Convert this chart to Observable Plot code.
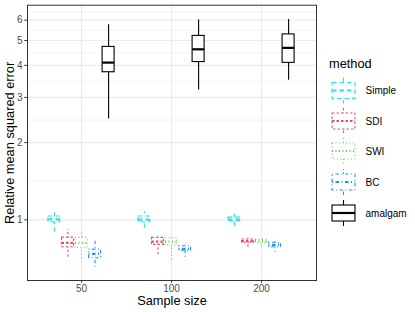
<!DOCTYPE html>
<html>
<head>
<meta charset="utf-8">
<script src="https://cdn.jsdelivr.net/npm/d3@7"></script>
<script src="https://cdn.jsdelivr.net/npm/@observablehq/plot@0.6"></script>
<style>
  html, body { margin: 0; padding: 0; background: white; }
  #wrap { position: relative; width: 415px; height: 312px; font-family: "Liberation Sans", Arial, sans-serif; }
  #legend { position: absolute; left: 0; top: 0; }
</style>
</head>
<body>
<div id="wrap"></div>
<script>
const sampleSizes = ["50", "100", "200"];
const methods = ["Simple", "SDI", "SWI", "BC", "amalgam"];
const methodColors = ["#28E2E5", "#DF536B", "#61D04F", "#2297E6", "#000000"];
const methodDashes = ["4.5,3", "2.5,2", "1,2.5", "1,2.5,3.5,2.5", null];
const yTicks = [1, 2, 3, 4, 5, 6];
const yMinorGrid = [1.414, 2.449, 3.464, 4.472, 5.477, 6.481];

// [whisker low, Q1, median, Q3, whisker high] for sample size 50, 100, 200
const simpleStats = [[0.895, 0.979, 1.005, 1.030, 1.087], [0.927, 0.979, 1.003, 1.030, 1.077], [0.944, 0.985, 1.003, 1.020, 1.065]];
const sdiStats = [[0.715, 0.782, 0.814, 0.853, 0.917], [0.731, 0.799, 0.823, 0.851, 0.863], [0.782, 0.814, 0.826, 0.838, 0.851]];
const swiStats = [[0.705, 0.775, 0.814, 0.851, 0.908], [0.699, 0.794, 0.823, 0.848, 0.874], [0.782, 0.811, 0.826, 0.836, 0.855]];
const bcStats = [[0.654, 0.709, 0.737, 0.766, 0.831], [0.715, 0.759, 0.771, 0.789, 0.806], [0.748, 0.782, 0.799, 0.814, 0.843]];
const amalgamStats = [[2.47, 3.76, 4.10, 4.72, 5.76], [3.21, 4.12, 4.62, 5.21, 6.01], [3.50, 4.09, 4.68, 5.28, 6.04]];

const allStats = [simpleStats, sdiStats, swiStats, bcStats, amalgamStats];
const rowsByMethod = allStats.map((stats, mi) => stats.map((s, si) => ({
  n: sampleSizes[si], method: methods[mi], lo: s[0], q1: s[1], med: s[2], q3: s[3], hi: s[4]
})));

const W = 415, H = 312;
const mL = 27, mR = 99, mT = 4.7, mB = 32;
const step = 13.55; // dodge step in px
const lw = 1.1;
const tickFs = 10, titleFs = 12.8;

const boxMarks = [];
rowsByMethod.forEach((rows, i) => {
  const dx = (i - 2) * step;
  const col = methodColors[i];
  const dash = methodDashes[i];
  boxMarks.push(
    Plot.ruleX(rows, {x: "n", y1: "lo", y2: "hi", stroke: col, strokeWidth: lw, strokeDasharray: dash, dx}),
    Plot.barY(rows, {x: "n", y1: "q1", y2: "q3", fill: "white", stroke: col, strokeWidth: lw, strokeDasharray: dash, dx}),
    Plot.tickY(rows, {x: "n", y: "med", stroke: col, strokeWidth: 2.2, strokeDasharray: dash, dx})
  );
});

const chart = Plot.plot({
  width: W, height: H,
  marginLeft: mL, marginRight: mR, marginTop: mT, marginBottom: mB,
  style: {fontFamily: "'Liberation Sans', Arial, sans-serif", background: "white", overflow: "visible"},
  x: {type: "band", domain: sampleSizes, paddingInner: 0.863, paddingOuter: 0.5315, align: 0.5},
  y: {type: "log", domain: [Math.exp(-0.544), Math.exp(1.926)]},
  marks: [
    Plot.ruleY(yMinorGrid, {y: d => d, stroke: "#EBEBEB", strokeWidth: 0.6}),
    Plot.ruleY(yTicks, {y: d => d, stroke: "#EBEBEB", strokeWidth: 1.1}),
    Plot.ruleX(sampleSizes, {x: d => d, stroke: "#EBEBEB", strokeWidth: 1.1}),
    ...boxMarks,
    Plot.frame({stroke: "#333333", strokeWidth: 1}),
    Plot.axisY({ticks: yTicks, tickFormat: d => String(d), tickSize: 2.7, tickPadding: 2.2, fontSize: tickFs, stroke: "#333333", color: "#4D4D4D", label: null}),
    Plot.axisX({tickSize: 2.7, tickPadding: 1.7, fontSize: tickFs, stroke: "#333333", color: "#4D4D4D", label: null}),
    Plot.text(["Relative mean squared error"], {frameAnchor: "left", textAnchor: "middle", lineAnchor: "middle", rotate: -90, dx: -17.5, fontSize: titleFs, fill: "black"}),
    Plot.text(["Sample size"], {frameAnchor: "bottom", textAnchor: "middle", lineAnchor: "middle", dy: 20.5, fontSize: titleFs, fill: "black"})
  ]
});
document.getElementById("wrap").appendChild(chart);

// Legend
const leg = d3.select("#wrap").append("svg")
  .attr("id", "legend").attr("width", W).attr("height", H)
  .style("font-family", "'Liberation Sans', Arial, sans-serif");
leg.append("text").attr("x", 329).attr("y", 68).attr("font-size", titleFs).attr("fill", "black").text("method");
const keyX = 332, keyW = 23;
const keyCenters = [90.5, 121, 151, 182, 213];
methods.forEach((m, i) => {
  const cy = keyCenters[i];
  const g = leg.append("g").attr("stroke", methodColors[i]).attr("stroke-width", lw).attr("fill", "none");
  if (methodDashes[i]) g.attr("stroke-dasharray", methodDashes[i]);
  const cx = keyX + keyW / 2;
  g.append("line").attr("x1", cx).attr("x2", cx).attr("y1", cy - 13).attr("y2", cy + 13);
  g.append("rect").attr("x", keyX).attr("y", cy - 8).attr("width", keyW).attr("height", 16).attr("fill", "white");
  g.append("line").attr("x1", keyX).attr("x2", keyX + keyW).attr("y1", cy).attr("y2", cy).attr("stroke-width", 2.2);
  leg.append("text").attr("x", 365.5).attr("y", cy + 3.6).attr("font-size", tickFs).attr("fill", "black").text(m);
});
</script>
</body>
</html>
